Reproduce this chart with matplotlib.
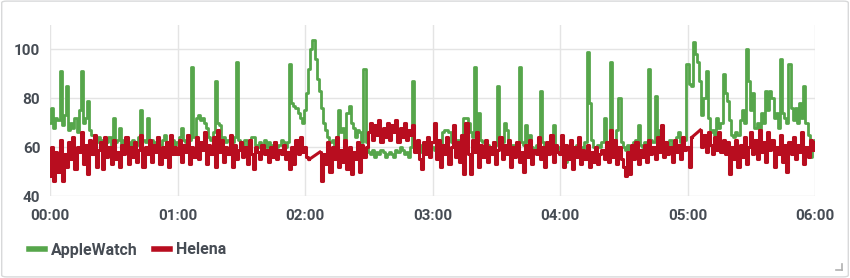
import numpy as np
import matplotlib
matplotlib.use("Agg")
import matplotlib.pyplot as plt
from matplotlib.patches import FancyBboxPatch
from matplotlib.lines import Line2D

# AppleWatch heart rate, one reading per minute from 00:00 to 06:00
apple_watch = [
    70, 76, 68, 72, 71, 91, 69, 73, 85, 67,
    70, 68, 72, 66, 75, 91, 70, 72, 79, 67,
    65, 63, 62, 64, 61, 63, 60, 62, 64, 61,
    72, 62, 63, 68, 61, 63, 60, 62, 61, 63,
    62, 61, 64, 75, 63, 62, 72, 61, 63, 60,
    62, 64, 61, 63, 65, 62, 60, 64, 63, 61,
    62, 64, 68, 63, 62, 65, 63, 93, 64, 72,
    73, 71, 72, 70, 68, 64, 63, 66, 87, 70,
    69, 63, 64, 62, 63, 61, 62, 64, 95, 63,
    62, 61, 63, 60, 62, 64, 64, 61, 60, 62,
    61, 63, 60, 62, 61, 59, 62, 60, 61, 63,
    62, 60, 62, 94, 78, 77, 76, 74, 72, 70,
    75, 82, 92, 100, 104, 96, 88, 83, 76, 70,
    67, 64, 62, 63, 61, 64, 75, 66, 68, 63,
    74, 77, 70, 68, 64, 67, 66, 62, 92, 62,
    58, 57, 59, 56, 58, 57, 59, 58, 56, 57,
    58, 57, 56, 59, 58, 60, 59, 57, 58, 56,
    60, 87, 62, 59, 58, 61, 60, 59, 62, 60,
    60, 59, 61, 62, 60, 66, 67, 67, 66, 62,
    60, 61, 63, 62, 64, 72, 72, 70, 66, 64,
    93, 65, 74, 63, 62, 60, 61, 59, 60, 62,
    61, 85, 63, 62, 70, 67, 62, 60, 61, 59,
    60, 93, 62, 61, 69, 62, 65, 60, 59, 61,
    60, 83, 62, 60, 58, 61, 59, 69, 58, 60,
    59, 57, 55, 54, 58, 60, 57, 59, 61, 58,
    60, 59, 62, 99, 78, 63, 60, 59, 61, 60,
    62, 72, 61, 60, 95, 63, 61, 67, 80, 62,
    60, 59, 61, 58, 60, 62, 63, 69, 61, 60,
    62, 61, 92, 63, 62, 81, 64, 67, 61, 60,
    62, 61, 63, 60, 62, 64, 66, 62, 61, 63,
    94, 86, 85, 103, 98, 95, 87, 73, 80, 91,
    72, 66, 67, 65, 72, 68, 70, 90, 82, 79,
    71, 65, 64, 66, 65, 71, 75, 70, 100, 87,
    75, 82, 68, 70, 66, 74, 70, 83, 75, 83,
    80, 72, 74, 68, 96, 74, 72, 70, 94, 76,
    71, 76, 70, 78, 72, 85, 70, 65, 56, 60, 63,
]
apple_minutes = list(range(len(apple_watch)))

# Helena readings, with two short gaps (about 02:02-02:07 and 05:02-05:06)
helena_minutes = list(range(0, 123)) + list(range(127, 303)) + list(range(306, 361))
helena = [
    48, 60, 46, 58, 50, 63, 46, 57, 52, 62,
    55, 64, 51, 60, 58, 66, 53, 61, 49, 63,
    57, 65, 52, 59, 62, 51, 64, 56, 60, 53,
    63, 55, 58, 52, 61, 57, 64, 53, 60, 56,
    62, 54, 59, 65, 52, 60, 57, 63, 54, 61,
    58, 64, 53, 60, 56, 62, 52, 65, 57, 60,
    57, 63, 54, 61, 58, 65, 53, 60, 56, 64,
    55, 62, 59, 66, 53, 61, 57, 64, 52, 67,
    58, 63, 54, 60, 57, 65, 52, 61, 55, 59,
    62, 56, 60, 53, 63, 57, 51, 60, 58, 55,
    61, 57, 59, 54, 60, 56, 62, 55, 59, 57,
    61, 55, 58, 51, 60, 53, 63, 57, 64, 58,
    60, 56, 55,
    58, 46, 57,
    53, 62, 50, 60, 55, 64, 52, 59, 54, 63,
    51, 60, 49, 58, 55, 62, 50, 61, 56, 60,
    66, 70, 63, 69, 65, 71, 62, 68, 64, 70,
    63, 69, 66, 71, 62, 68, 64, 70, 63, 67,
    65, 69, 58, 63, 55, 51, 62, 57, 64, 56,
    62, 70, 55, 63, 52, 61, 57, 64, 53, 60,
    69, 56, 62, 54, 65, 49, 70, 57, 49, 63,
    58, 66, 52, 61, 56, 63, 54, 60, 57, 62,
    53, 59, 64, 55, 61, 57, 63, 52, 60, 56,
    62, 54, 58, 50, 61, 56, 63, 53, 59, 57,
    64, 55, 60, 52, 62, 57, 65, 54, 61, 58,
    57, 65, 52, 61, 55, 63, 51, 60, 56, 64,
    53, 59, 55, 61, 52, 58, 54, 60, 53, 57,
    59, 55, 62, 54, 67, 56, 63, 53, 60, 55,
    52, 48, 58, 49, 61, 55, 62, 53, 59, 56,
    61, 54, 63, 57, 60, 55, 64, 58, 69, 56,
    62, 57, 60, 54, 63, 58, 61, 55, 64, 59,
    60, 52, 64,
    67, 60, 65, 58, 66, 61, 57, 64, 59, 66, 58, 63, 57, 62,
    49, 60, 55, 63, 52, 61, 56, 64, 53, 60,
    66, 57, 63, 55, 67, 58, 62, 54, 66, 59,
    63, 52, 60, 57, 65, 54, 61, 50, 62, 57,
    64, 55, 61, 58, 66, 53, 60, 56, 63, 59, 62,
]

tick_minutes = [0, 60, 120, 180, 240, 300, 360]
tick_labels = ["00:00", "01:00", "02:00", "03:00", "04:00", "05:00", "06:00"]
y_ticks = [40, 60, 80, 100]

GREEN = "#56a64b"
RED = "#b80d1f"
TEXT = "#464c54"
GRID = "#e4e4e4"

plt.rcParams["font.family"] = ["Roboto", "DejaVu Sans"]

fig = plt.figure(figsize=(8.5, 2.78), dpi=100)
fig.patch.set_facecolor("white")

# panel frame
frame = FancyBboxPatch((0.002, 0.004), 0.996, 0.992, transform=fig.transFigure,
                       boxstyle="round,pad=0,rounding_size=0.006",
                       facecolor="none", edgecolor="#d8d9da", linewidth=1.0)
fig.patches.append(frame)

ax = fig.add_axes([50 / 850, 1 - 196 / 278, 765 / 850, 171 / 278])
ax.set_facecolor("none")
ax.plot(apple_minutes, apple_watch, color=GREEN, lw=2.0, drawstyle="steps-mid", zorder=3)

# helena: step-drawn runs, joined by straight lines across the gaps
hm = np.array(helena_minutes)
hv = np.array(helena)
breaks = np.where(np.diff(hm) > 1)[0] + 1
starts = np.r_[0, breaks]
ends = np.r_[breaks, len(hm)]
for a, b in zip(starts, ends):
    ax.plot(hm[a:b], hv[a:b], color=RED, lw=2.2, drawstyle="steps-mid", zorder=4)
for i in breaks:
    ax.plot(hm[i - 1:i + 1], hv[i - 1:i + 1], color=RED, lw=2.2, zorder=4)

ax.set_xlim(0, 360)
ax.set_ylim(40, 110)
ax.set_xticks(tick_minutes)
ax.set_xticklabels(tick_labels)
ax.set_yticks(y_ticks)
ax.grid(True, color=GRID, lw=1.0)
ax.set_axisbelow(True)
for s in ax.spines.values():
    s.set_visible(False)
ax.tick_params(length=0, labelsize=11, labelcolor=TEXT)
ax.tick_params(axis="x", pad=9)
ax.tick_params(axis="y", pad=7)
for lab in ax.get_xticklabels() + ax.get_yticklabels():
    lab.set_fontweight("bold")

handles = [Line2D([], [], color=GREEN, lw=4.0), Line2D([], [], color=RED, lw=4.0)]
leg = fig.legend(handles, ["AppleWatch", "Helena"], loc="center left",
                 bbox_to_anchor=(29 / 850, 1 - 250 / 278), ncol=2, frameon=False,
                 handlelength=1.0, handletextpad=0.4, columnspacing=1.0,
                 borderaxespad=0, borderpad=0, prop={"size": 11.5, "weight": "bold"})
for t in leg.get_texts():
    t.set_color(TEXT)

# resize corner mark
fig.add_artist(Line2D([836 / 850, 842 / 850], [1 - 270 / 278, 1 - 270 / 278],
                      transform=fig.transFigure, color="#b0b0b0", lw=1.2))
fig.add_artist(Line2D([842 / 850, 842 / 850], [1 - 270 / 278, 1 - 264 / 278],
                      transform=fig.transFigure, color="#b0b0b0", lw=1.2))

fig.savefig("out.png", dpi=100)
